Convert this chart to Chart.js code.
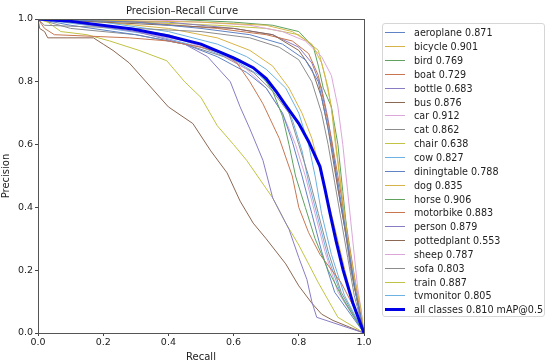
<!DOCTYPE html>
<html lang="en">
<head>
    <meta charset="UTF-8" />
    <title>Precision-Recall Curve</title>
    <script src="https://cdn.jsdelivr.net/npm/chart.js"></script>
    <style>
        body { margin: 0; background: #fff; font-family: "DejaVu Sans", sans-serif; }
        #wrap { position: relative; width: 550px; height: 363px; }
        #legend {
            position: absolute; left: 382px; top: 23px; width: 163px; height: 294px;
            border: 1px solid #d6d6d6; border-radius: 3px; box-sizing: border-box;
            padding-top: 2px; font-size: 9.6px; color: #222;
        }
        .row { height: 13.85px; display: flex; align-items: center; }
        .swatch { width: 20px; margin-left: 2px; margin-right: 9px; }
    </style>
</head>
<body>
<div id="wrap">
    <canvas id="prChart" width="550" height="363"></canvas>
    <div id="legend"></div>
</div>
<script>
    const classNames = ['aeroplane', 'bicycle', 'bird', 'boat', 'bottle', 'bus', 'car', 'cat', 'chair', 'cow',
        'diningtable', 'dog', 'horse', 'motorbike', 'person', 'pottedplant', 'sheep', 'sofa', 'train', 'tvmonitor'];
    const apValues = [0.871, 0.901, 0.769, 0.729, 0.683, 0.876, 0.912, 0.862, 0.638, 0.827,
        0.788, 0.835, 0.906, 0.883, 0.879, 0.553, 0.787, 0.803, 0.887, 0.805];
    const mAP = 0.810;

    // [recall, precision] points
    const aeroplanePR = [[0,1],[0.3,0.99],[0.5,0.97],[0.65,0.95],[0.75,0.92],[0.82,0.87],[0.86,0.8],[0.88,0.7],[0.9,0.6],[0.92,0.48],[0.94,0.35],[0.96,0.22],[0.98,0.1],[1,0]];
    const bicyclePR = [[0,1],[0.5,0.99],[0.7,0.98],[0.78,0.96],[0.84,0.92],[0.87,0.86],[0.89,0.78],[0.905,0.68],[0.92,0.55],[0.935,0.42],[0.95,0.3],[0.97,0.18],[0.99,0.08],[1,0]];
    const birdPR = [[0,1],[0.2,0.98],[0.4,0.95],[0.55,0.9],[0.62,0.87],[0.68,0.83],[0.72,0.77],[0.75,0.69],[0.77,0.6],[0.79,0.5],[0.82,0.4],[0.85,0.3],[0.89,0.2],[0.94,0.1],[1,0]];
    const boatPR = [[0,1],[0.02,0.97],[0.05,0.95],[0.28,0.94],[0.4,0.93],[0.5,0.91],[0.57,0.89],[0.61,0.86],[0.65,0.8],[0.69,0.73],[0.74,0.62],[0.78,0.5],[0.8,0.4],[0.83,0.32],[0.865,0.25],[0.93,0.16],[0.97,0.08],[1,0]];
    const bottlePR = [[0,1],[0.1,0.99],[0.3,0.96],[0.45,0.92],[0.52,0.88],[0.59,0.8],[0.62,0.72],[0.65,0.65],[0.69,0.55],[0.72,0.43],[0.77,0.33],[0.8,0.24],[0.825,0.17],[0.84,0.1],[0.855,0.05],[1,0]];
    const busPR = [[0,1],[0.2,0.99],[0.4,0.98],[0.6,0.97],[0.72,0.95],[0.8,0.9],[0.84,0.84],[0.87,0.75],[0.89,0.65],[0.91,0.52],[0.93,0.4],[0.95,0.28],[0.97,0.15],[1,0]];
    const carPR = [[0,1],[0.3,1],[0.5,0.99],[0.65,0.98],[0.75,0.96],[0.82,0.93],[0.87,0.88],[0.9,0.82],[0.92,0.72],[0.935,0.6],[0.95,0.45],[0.965,0.3],[0.98,0.15],[0.99,0.08],[1,0]];
    const catPR = [[0,1],[0.02,0.98],[0.3,0.97],[0.5,0.96],[0.65,0.94],[0.74,0.91],[0.8,0.87],[0.84,0.8],[0.87,0.7],[0.89,0.6],[0.91,0.48],[0.93,0.36],[0.95,0.24],[0.97,0.12],[1,0]];
    const chairPR = [[0,1],[0.03,0.99],[0.07,0.96],[0.15,0.95],[0.22,0.93],[0.31,0.9],[0.395,0.867],[0.45,0.8],[0.5,0.75],[0.55,0.66],[0.6,0.6],[0.64,0.55],[0.68,0.49],[0.72,0.43],[0.76,0.35],[0.8,0.28],[0.83,0.22],[0.86,0.16],[0.89,0.105],[0.92,0.05],[1,0]];
    const cowPR = [[0,1],[0.2,0.99],[0.4,0.96],[0.55,0.92],[0.64,0.88],[0.7,0.84],[0.76,0.78],[0.8,0.7],[0.83,0.6],[0.85,0.5],[0.87,0.38],[0.9,0.25],[0.94,0.12],[1,0]];
    const diningtablePR = [[0,1],[0.1,0.98],[0.3,0.95],[0.45,0.92],[0.55,0.88],[0.64,0.83],[0.7,0.78],[0.75,0.7],[0.78,0.61],[0.81,0.5],[0.84,0.38],[0.87,0.26],[0.91,0.13],[1,0]];
    const dogPR = [[0,1],[0.2,0.99],[0.4,0.97],[0.55,0.94],[0.65,0.9],[0.72,0.85],[0.77,0.78],[0.81,0.7],[0.84,0.62],[0.87,0.5],[0.9,0.38],[0.93,0.25],[0.96,0.12],[1,0]];
    const horsePR = [[0,1],[0.4,1],[0.6,0.99],[0.72,0.98],[0.8,0.96],[0.845,0.91],[0.86,0.85],[0.875,0.78],[0.9,0.72],[0.92,0.6],[0.935,0.45],[0.95,0.3],[0.97,0.15],[1,0]];
    const motorbikePR = [[0,1],[0.3,0.99],[0.55,0.97],[0.7,0.95],[0.78,0.93],[0.83,0.89],[0.86,0.82],[0.88,0.72],[0.9,0.62],[0.92,0.5],[0.94,0.38],[0.96,0.25],[0.98,0.12],[1,0]];
    const personPR = [[0,1],[0.4,0.99],[0.6,0.97],[0.72,0.95],[0.8,0.91],[0.84,0.86],[0.87,0.78],[0.89,0.68],[0.905,0.58],[0.92,0.46],[0.94,0.34],[0.96,0.2],[0.98,0.1],[1,0]];
    const pottedplantPR = [[0,1],[0.005,0.97],[0.02,0.96],[0.03,0.94],[0.17,0.94],[0.2,0.92],[0.23,0.9],[0.28,0.86],[0.34,0.79],[0.4,0.72],[0.475,0.667],[0.53,0.58],[0.58,0.51],[0.62,0.42],[0.66,0.35],[0.7,0.3],[0.76,0.22],[0.8,0.15],[0.84,0.095],[0.87,0.06],[0.905,0.04],[1,0]];
    const sheepPR = [[0,1],[0.1,0.99],[0.3,0.96],[0.45,0.93],[0.56,0.89],[0.64,0.84],[0.7,0.78],[0.75,0.7],[0.79,0.6],[0.82,0.5],[0.85,0.38],[0.88,0.26],[0.92,0.13],[1,0]];
    const sofaPR = [[0,1],[0.1,0.97],[0.3,0.95],[0.45,0.92],[0.57,0.88],[0.66,0.83],[0.72,0.77],[0.77,0.7],[0.8,0.6],[0.83,0.5],[0.86,0.38],[0.89,0.26],[0.93,0.13],[1,0]];
    const trainPR = [[0,1],[0.3,0.99],[0.55,0.98],[0.7,0.97],[0.8,0.95],[0.86,0.9],[0.88,0.82],[0.9,0.72],[0.91,0.62],[0.925,0.5],[0.94,0.35],[0.96,0.2],[0.98,0.1],[1,0]];
    const tvmonitorPR = [[0,1],[0.15,0.98],[0.35,0.95],[0.5,0.91],[0.6,0.87],[0.68,0.82],[0.74,0.76],[0.78,0.68],[0.81,0.58],[0.83,0.48],[0.86,0.36],[0.89,0.24],[0.93,0.12],[1,0]];
    const allClassesPR = [[0,1],[0.09,0.994],[0.29,0.968],[0.4,0.946],[0.5,0.92],[0.6,0.876],[0.66,0.845],[0.7,0.81],[0.73,0.77],[0.76,0.725],[0.8,0.667],[0.83,0.61],[0.865,0.53],[0.88,0.46],[0.896,0.38],[0.915,0.29],[0.936,0.2],[0.966,0.095],[1,0]];

    const classCurves = [aeroplanePR, bicyclePR, birdPR, boatPR, bottlePR, busPR, carPR, catPR, chairPR, cowPR,
        diningtablePR, dogPR, horsePR, motorbikePR, personPR, pottedplantPR, sheepPR, sofaPR, trainPR, tvmonitorPR];

    const palette = ['#5f83c4', '#d8b448', '#5ea25e', '#c77650', '#8a7cc2', '#8c6852', '#dca6da', '#8c8c8c', '#c2c244', '#6cb2e2'];

    const datasets = classNames.map((name, i) => ({
        label: name + ' ' + apValues[i].toFixed(3),
        data: classCurves[i].map(p => ({ x: p[0], y: p[1] })),
        borderColor: palette[i % 10],
        borderWidth: 1,
        pointRadius: 0,
        fill: false,
        tension: 0
    }));
    datasets.push({
        label: 'all classes ' + mAP.toFixed(3) + ' mAP@0.5',
        data: allClassesPR.map(p => ({ x: p[0], y: p[1] })),
        borderColor: '#0000e6',
        borderWidth: 3,
        pointRadius: 0,
        fill: false,
        tension: 0,
        order: -1
    });

    const framePlugin = {
        id: 'frame',
        afterDraw(chart) {
            const a = chart.chartArea, c = chart.ctx;
            c.save();
            c.strokeStyle = '#555';
            c.lineWidth = 1;
            c.strokeRect(Math.round(a.left) + 0.5, Math.round(a.top) + 0.5, Math.round(a.right - a.left), Math.round(a.bottom - a.top));
            c.restore();
        }
    };

    const tickFont = { family: 'DejaVu Sans', size: 9.5 };
    const labelFont = { family: 'DejaVu Sans', size: 10, weight: 'normal' };

    new Chart(document.getElementById('prChart'), {
        type: 'line',
        data: { datasets: datasets },
        options: {
            responsive: false,
            animation: false,
            layout: { padding: { top: 0, left: 0, right: 186, bottom: 0 } },
            plugins: {
                legend: { display: false },
                tooltip: { enabled: false },
                title: {
                    display: true,
                    text: 'Precision\u2013Recall Curve',
                    font: labelFont,
                    color: '#222',
                    padding: { top: 5, bottom: 2 }
                }
            },
            scales: {
                x: {
                    type: 'linear', min: 0, max: 1,
                    ticks: { stepSize: 0.2, font: tickFont, color: '#222', padding: 1, maxRotation: 0,
                        callback: v => v.toFixed(1) },
                    grid: { drawOnChartArea: false, drawTicks: true, tickLength: 3, color: '#444' },
                    border: { color: '#555' },
                    title: { display: true, text: 'Recall', font: labelFont, color: '#222', padding: { top: 0, bottom: 0 } },
                    afterFit: s => { s.height = 30; }
                },
                y: {
                    type: 'linear', min: 0, max: 1,
                    ticks: { stepSize: 0.2, font: tickFont, color: '#222', padding: 2,
                        callback: v => v.toFixed(1) },
                    grid: { drawOnChartArea: false, drawTicks: true, tickLength: 3, color: '#444' },
                    border: { color: '#555' },
                    title: { display: true, text: 'Precision', font: labelFont, color: '#222', padding: { top: 0, bottom: 2 } },
                    afterFit: s => { s.width = 38; }
                }
            }
        },
        plugins: [framePlugin]
    });

    // legend built from the same arrays
    const legendEl = document.getElementById('legend');
    datasets.forEach(ds => {
        const row = document.createElement('div');
        row.className = 'row';
        const sw = document.createElement('div');
        sw.className = 'swatch';
        sw.style.borderTop = ds.borderWidth + 'px solid ' + ds.borderColor;
        const txt = document.createElement('span');
        txt.textContent = ds.label;
        row.appendChild(sw);
        row.appendChild(txt);
        legendEl.appendChild(row);
    });
</script>
</body>
</html>
